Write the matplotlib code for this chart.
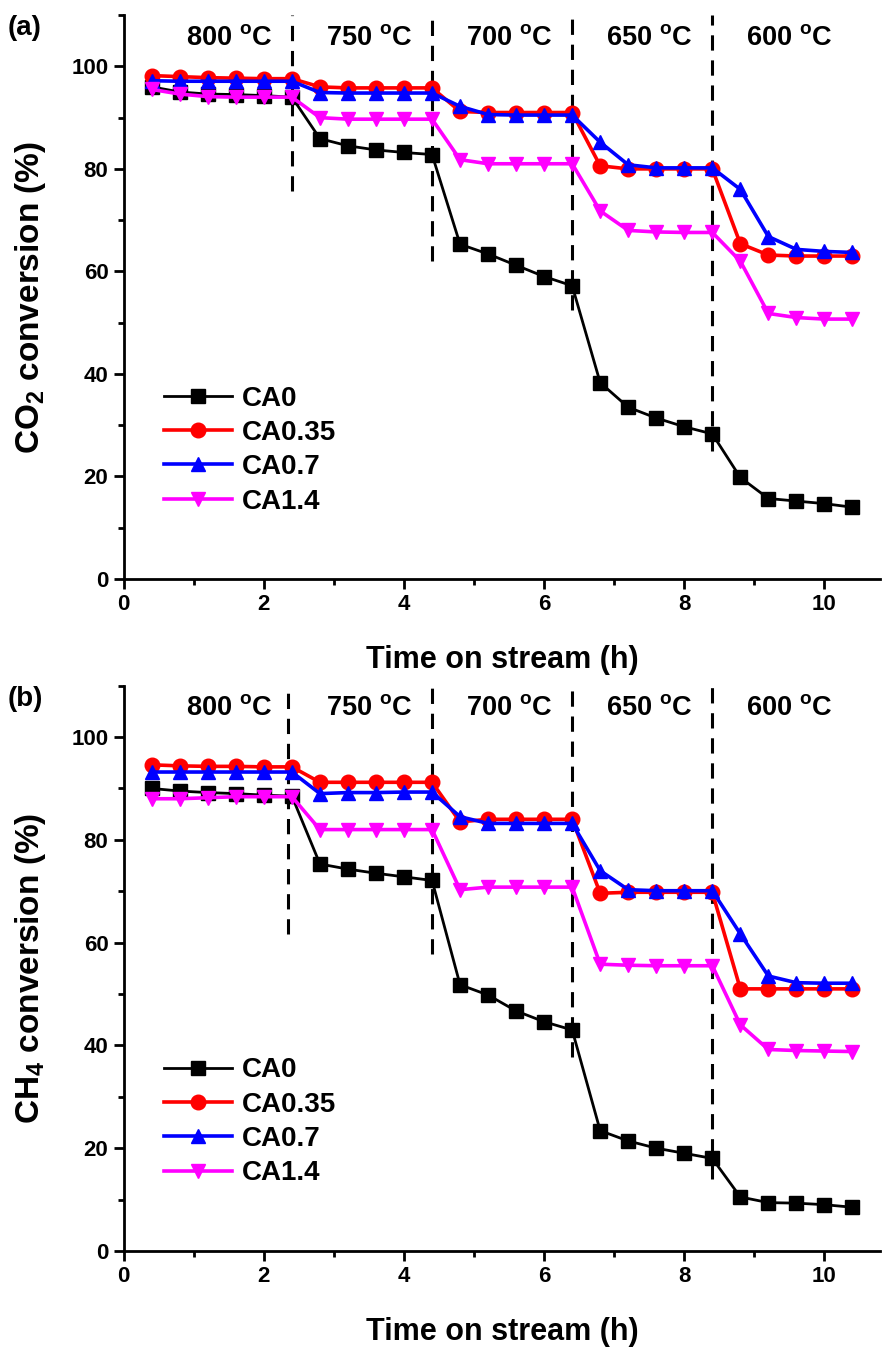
import matplotlib
matplotlib.use("Agg")
import matplotlib.pyplot as plt
from matplotlib.ticker import MultipleLocator

plt.rcParams["font.family"] = ["Liberation Sans", "DejaVu Sans"]
plt.rcParams["font.weight"] = "bold"
plt.rcParams["mathtext.fontset"] = "custom"
plt.rcParams["mathtext.rm"] = "Liberation Sans:bold"
plt.rcParams["mathtext.bf"] = "Liberation Sans:bold"
plt.rcParams["mathtext.it"] = "Liberation Sans:bold"

# ── Data ────────────────────────────────────────────────────────────────
time_h = [0.4, 0.8, 1.2, 1.6, 2.0, 2.4,
          2.8, 3.2, 3.6, 4.0, 4.4,
          4.8, 5.2, 5.6, 6.0, 6.4,
          6.8, 7.2, 7.6, 8.0, 8.4,
          8.8, 9.2, 9.6, 10.0, 10.4]

series_names = ["CA0", "CA0.35", "CA0.7", "CA1.4"]

co2_ca0 = [96.0, 95.0, 94.6, 94.5, 94.3, 94.0,
           85.9, 84.5, 83.7, 83.2, 82.8,
           65.3, 63.4, 61.2, 59.0, 57.2,
           38.3, 33.5, 31.4, 29.7, 28.3,
           19.8, 15.7, 15.2, 14.7, 14.0]
co2_ca035 = [98.2, 98.0, 97.8, 97.7, 97.6, 97.6,
             96.0, 95.8, 95.8, 95.8, 95.8,
             91.2, 91.0, 91.0, 91.0, 91.0,
             80.6, 80.0, 80.0, 80.0, 80.0,
             65.4, 63.2, 63.0, 63.0, 63.0]
co2_ca07 = [97.2, 97.1, 97.1, 97.1, 97.1, 97.1,
            94.9, 94.8, 94.8, 94.8, 94.8,
            92.2, 90.6, 90.5, 90.5, 90.5,
            85.2, 80.8, 80.2, 80.2, 80.2,
            76.0, 66.8, 64.3, 63.9, 63.7]
co2_ca14 = [95.5, 94.6, 94.1, 94.0, 94.0, 94.0,
            90.0, 89.7, 89.7, 89.7, 89.7,
            81.8, 81.0, 81.0, 81.0, 81.0,
            71.8, 68.0, 67.7, 67.6, 67.6,
            62.0, 51.8, 51.0, 50.7, 50.7]

ch4_ca0 = [90.0, 89.5, 89.2, 89.0, 88.7, 88.5,
           75.3, 74.3, 73.5, 72.8, 72.1,
           51.8, 49.8, 46.7, 44.6, 43.0,
           23.4, 21.4, 20.0, 19.0, 18.0,
           10.5, 9.4, 9.3, 9.0, 8.5]
ch4_ca035 = [94.6, 94.4, 94.3, 94.3, 94.2, 94.2,
             91.2, 91.2, 91.2, 91.2, 91.2,
             83.5, 84.0, 84.0, 84.0, 84.0,
             69.6, 69.8, 69.8, 69.8, 69.8,
             51.0, 51.0, 51.0, 51.0, 51.0]
ch4_ca07 = [93.2, 93.2, 93.2, 93.2, 93.2, 93.2,
            89.0, 89.2, 89.2, 89.3, 89.3,
            84.5, 83.2, 83.2, 83.2, 83.2,
            74.0, 70.3, 70.1, 70.1, 70.1,
            61.7, 53.5, 52.2, 52.1, 52.1]
ch4_ca14 = [88.0, 88.0, 88.2, 88.4, 88.4, 88.4,
            82.0, 82.0, 82.0, 82.0, 82.0,
            70.3, 70.8, 70.8, 70.8, 70.8,
            55.8, 55.6, 55.5, 55.5, 55.5,
            44.0, 39.2, 39.0, 38.9, 38.8]

temp_labels = ["800 $^{\\rm o}$C", "750 $^{\\rm o}$C", "700 $^{\\rm o}$C",
               "650 $^{\\rm o}$C", "600 $^{\\rm o}$C"]
temp_label_x = [1.5, 3.5, 5.5, 7.5, 9.5]
switch_x_a = [2.4, 4.4, 6.4, 8.4]
switch_bottom_a = [75.6, 62.0, 52.5, 25.0]
switch_x_b = [2.35, 4.4, 6.4, 8.4]
switch_bottom_b = [61.7, 57.8, 37.7, 14.0]

# ── Style ───────────────────────────────────────────────────────────────
COLORS = ["#000000", "#FF0000", "#0000FF", "#FF00FF"]
MARKERS = ["s", "o", "^", "v"]
LW = [2.0, 2.6, 2.6, 2.6]


def panel(ax, data, ylabel, tag, sw_x, sw_bot):
    for ys, name, c, m, lw in zip(data, series_names, COLORS, MARKERS, LW):
        ax.plot(time_h, ys, color=c, marker=m, lw=lw, ms=10.5, label=name,
                markeredgecolor=c, zorder=3)
    for x, yb in zip(sw_x, sw_bot):
        ax.plot([x, x], [yb, 110], color="black", lw=2.2, ls=(0, (5, 3.2)),
                zorder=2)
    for x, t in zip(temp_label_x, temp_labels):
        ax.text(x, 105.6, t, ha="center", va="center", fontsize=19.5,
                fontweight="bold")
    ax.set_xlim(0, 10.8)
    ax.set_ylim(0, 110)
    ax.xaxis.set_major_locator(MultipleLocator(2))
    ax.xaxis.set_minor_locator(MultipleLocator(1))
    ax.yaxis.set_major_locator(MultipleLocator(20))
    ax.yaxis.set_minor_locator(MultipleLocator(10))
    ax.tick_params(which="both", direction="out", width=2.0, labelsize=16)
    ax.tick_params(which="major", length=7, pad=4)
    ax.tick_params(which="minor", length=4)
    for s in ("top", "right"):
        ax.spines[s].set_visible(False)
    for s in ("left", "bottom"):
        ax.spines[s].set_linewidth(2.0)
    for lab in ax.get_xticklabels() + ax.get_yticklabels():
        lab.set_fontweight("bold")
    ax.set_xlabel("Time on stream (h)", fontsize=22, fontweight="bold")
    ax.xaxis.set_label_coords(0.5, -0.117)
    ax.set_ylabel(ylabel, fontsize=24, fontweight="bold")
    ax.yaxis.set_label_coords(-0.10, 0.5)
    ax.legend(loc="lower left", bbox_to_anchor=(0.02, 0.07), frameon=False,
              handlelength=2.45, handletextpad=0.35,
              labelspacing=0.3, prop={"weight": "bold", "size": 20})
    ax.text(-0.153, 1.0, tag, transform=ax.transAxes, fontsize=20,
            fontweight="bold", ha="left", va="top")


fig = plt.figure(figsize=(8.84, 13.49), dpi=100)
ax1 = fig.add_axes([0.140, 0.5708, 0.856, 0.418])
ax2 = fig.add_axes([0.140, 0.0727, 0.856, 0.419])

panel(ax1, [co2_ca0, co2_ca035, co2_ca07, co2_ca14],
      "CO$_2$ conversion (%)", "(a)", switch_x_a, switch_bottom_a)
panel(ax2, [ch4_ca0, ch4_ca035, ch4_ca07, ch4_ca14],
      "CH$_4$ conversion (%)", "(b)", switch_x_b, switch_bottom_b)

fig.savefig("out.png", dpi=100, facecolor="white")
